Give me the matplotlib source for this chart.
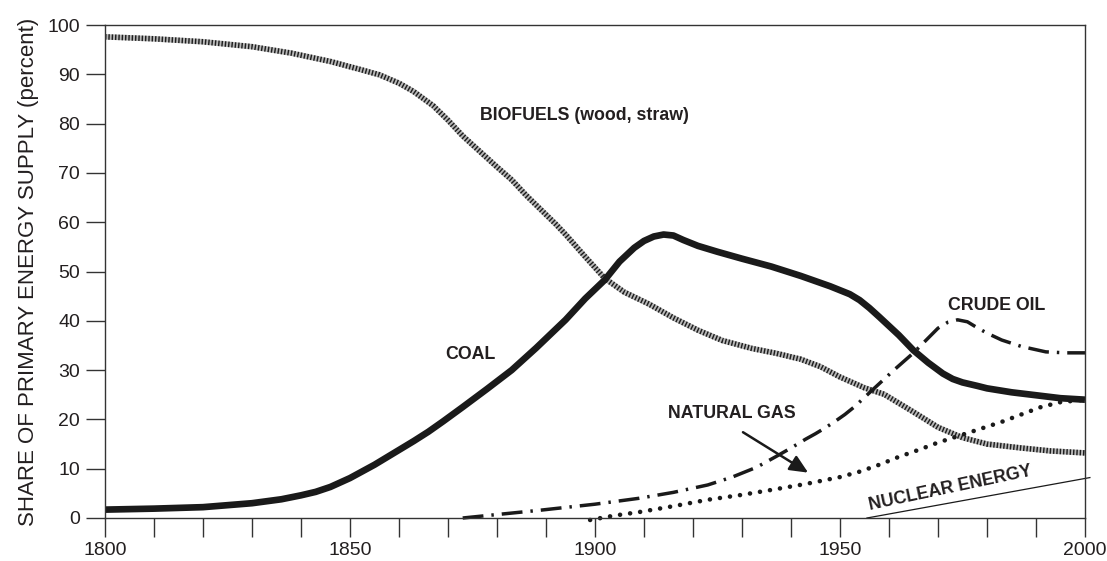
"""
Share of primary energy supply, 1800-2000,
by source: biofuels, coal, crude oil, natural gas and nuclear.
"""

import matplotlib
matplotlib.use('Agg')
import matplotlib.pyplot as plt

plt.rcParams['font.family'] = ['Liberation Sans', 'DejaVu Sans']

ink = '#231f20'

# values (year, percent)
bio_years = [1800, 1810, 1820, 1830, 1838, 1846, 1852, 1856, 1860, 1863, 1867, 1870,
             1873, 1876, 1880, 1883, 1886, 1889, 1892, 1894, 1898, 1902, 1906, 1911,
             1916, 1921, 1926, 1932, 1937, 1942, 1946, 1950, 1955, 1959, 1965, 1970,
             1975, 1980, 1987, 1993, 2000]
bio_share = [97.6, 97.2, 96.6, 95.6, 94.3, 92.6, 91.0, 89.9, 88.2, 86.5, 83.6, 80.7,
             77.5, 74.8, 71.2, 68.6, 65.4, 62.5, 59.6, 57.5, 53.0, 48.6, 45.8, 43.4,
             40.6, 38.1, 36.0, 34.4, 33.4, 32.2, 30.7, 28.6, 26.4, 25.1, 21.5, 18.4,
             16.3, 15.0, 14.2, 13.6, 13.2]

coal_years = [1800, 1810, 1820, 1830, 1836, 1840, 1843, 1846, 1850, 1855, 1860, 1863,
              1866, 1869, 1873, 1878, 1883, 1888, 1894, 1898, 1902, 1905, 1908, 1910,
              1912, 1914, 1916, 1918, 1921, 1925, 1930, 1936, 1942, 1948, 1952, 1954,
              1956, 1958, 1962, 1965, 1968, 1971, 1973, 1975, 1978, 1980, 1985, 1990,
              1995, 2000]
coal_share = [1.7, 1.9, 2.2, 3.0, 3.8, 4.6, 5.3, 6.3, 8.1, 10.8, 13.8, 15.6,
              17.5, 19.6, 22.5, 26.2, 30.0, 34.5, 40.2, 44.5, 48.3, 52.0, 54.8, 56.2,
              57.1, 57.5, 57.3, 56.4, 55.2, 54.0, 52.6, 51.0, 49.1, 47.0, 45.4, 44.2,
              42.6, 40.8, 37.1, 34.0, 31.5, 29.3, 28.2, 27.5, 26.8, 26.3, 25.5, 24.9,
              24.3, 24.0]

oil_years = [1873, 1880, 1889, 1900, 1909, 1916, 1923, 1928, 1933, 1937, 1940, 1943,
             1945, 1947, 1949, 1951, 1953, 1956, 1961, 1965, 1968, 1970, 1972, 1974,
             1976, 1978, 1980, 1983, 1987, 1992, 1996, 2000]
oil_share = [0.0, 0.7, 1.6, 2.8, 4.0, 5.2, 6.7, 8.3, 10.3, 12.5, 14.2, 16.0,
             17.1, 18.3, 19.6, 21.0, 22.6, 25.4, 30.0, 33.5, 36.5, 38.5, 39.7, 40.2,
             39.8, 38.6, 37.5, 36.1, 34.8, 33.7, 33.5, 33.5]

gas_years = [1899, 1904, 1909, 1916, 1923, 1930, 1936, 1943, 1950, 1954, 1958, 1962,
             1966, 1970, 1975, 1979, 1983, 1987, 1991, 1995, 2000]
gas_share = [-0.4, 0.5, 1.2, 2.4, 3.7, 4.7, 5.7, 6.9, 8.3, 9.4, 10.8, 12.4,
             13.8, 15.3, 16.9, 18.2, 19.5, 21.0, 22.5, 23.5, 24.0]

nuc_years = [1955.5, 2001]
nuc_share = [0.0, 8.2]

fig = plt.figure(figsize=(11.07, 5.61), dpi=100)
ax = fig.add_axes([105 / 1107, 43 / 561, 980 / 1107, 493 / 561])

# biofuels: hatched band drawn as a light line with dense dark stripes over it
ax.plot(bio_years, bio_share, color='#b8b8b8', lw=4.0, solid_capstyle='butt',
        solid_joinstyle='round')
ax.plot(bio_years, bio_share, color='#1e1e1e', lw=4.0,
        linestyle=(0, (0.26, 0.34)), dash_capstyle='butt')

ax.plot(coal_years, coal_share, color='#1a1a1a', lw=4.8,
        solid_capstyle='butt', solid_joinstyle='round')
ax.plot(oil_years, oil_share, color='#1a1a1a', lw=2.5,
        linestyle=(0, (6, 2.3, 0.7, 2.3)), clip_on=False)
ax.plot(gas_years, gas_share, color='#1a1a1a', lw=3.3,
        linestyle=(0, (0.01, 2.2)), dash_capstyle='round', clip_on=False)
ax.plot(nuc_years, nuc_share, color='#1a1a1a', lw=0.9, clip_on=False)

# labels on the curves
ax.text(1876.5, 81.7, 'BIOFUELS (wood, straw)', fontsize=12.8, fontweight='bold',
        color=ink, va='center')
ax.text(1869.5, 33.2, 'COAL', fontsize=12.8, fontweight='bold', color=ink, va='center')
ax.text(1972, 43.2, 'CRUDE OIL', fontsize=12.8, fontweight='bold', color=ink, va='center')
ax.text(1915, 21.2, 'NATURAL GAS', fontsize=12.8, fontweight='bold', color=ink,
        va='center')
ax.text(1972.5, 6.0, 'NUCLEAR ENERGY', fontsize=12.8, fontweight='bold', color=ink,
        va='center', ha='center', rotation=12)

ax.annotate('', xy=(1943.5, 9.2), xytext=(1930.2, 17.4),
            arrowprops=dict(arrowstyle='-|>,head_length=1.1,head_width=0.5',
                            color='#1a1a1a', lw=1.8, shrinkA=0, shrinkB=0))

ax.set_xlim(1800, 2000)
ax.set_ylim(0, 100)
ax.set_xticks(range(1800, 2001, 50))
ax.set_xticks(range(1800, 2001, 10), minor=True)
ax.set_yticks(range(0, 101, 10))

ax.tick_params(axis='both', which='both', direction='out', length=14, width=1.0,
               color='#333333', labelsize=14, labelcolor=ink)
ax.tick_params(axis='x', which='both', pad=3)
ax.tick_params(axis='y', pad=4)

for side in ax.spines.values():
    side.set_color('#333333')
    side.set_linewidth(1.0)

ax.set_ylabel('SHARE OF PRIMARY ENERGY SUPPLY (percent)', fontsize=16, color=ink,
              labelpad=6)

fig.savefig('out.png', dpi=100)
